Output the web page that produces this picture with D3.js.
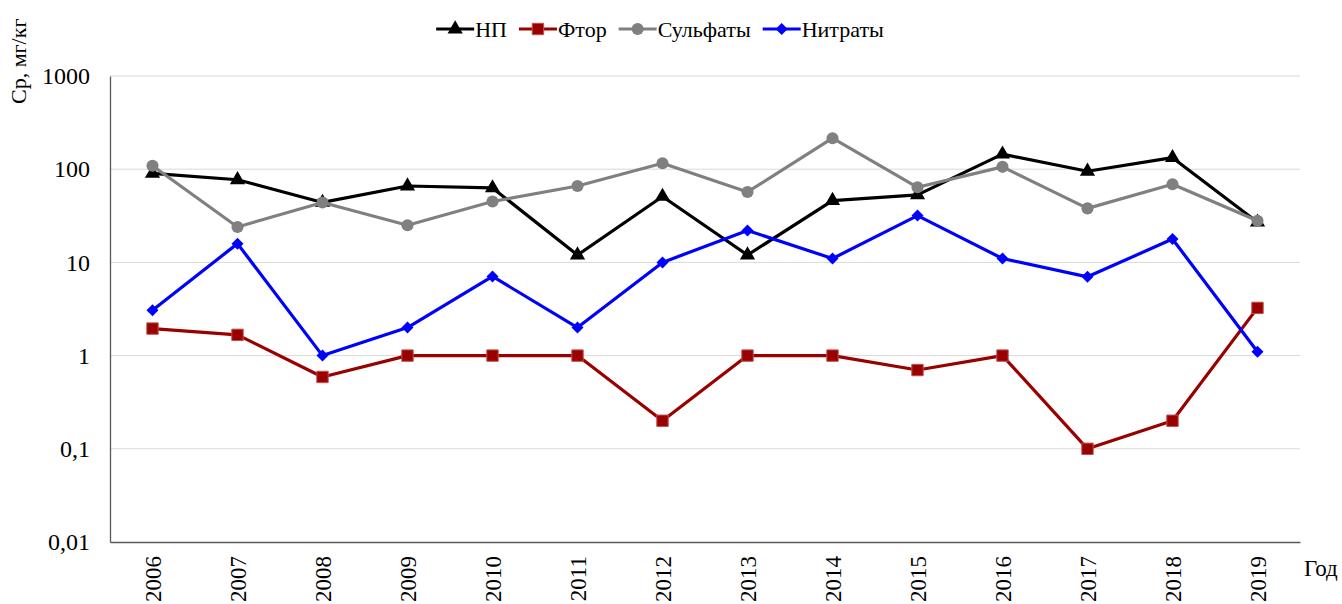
<!DOCTYPE html>
<html>
<head>
<meta charset="utf-8">
<script src="https://cdn.jsdelivr.net/npm/d3@7"></script>
<style>
  body { margin: 0; background: #fff; }
  svg text { font-family: "Liberation Serif", "Times New Roman", serif; fill: #000; }
</style>
</head>
<body>
<script>
const years = ['2006','2007','2008','2009','2010','2011','2012','2013','2014','2015','2016','2017','2018','2019'];
const np = [90, 77, 44, 66, 63, 12, 51, 12, 46, 53, 145, 95, 133, 27];
const ftor = [1.95, 1.67, 0.59, 1, 1, 1, 0.2, 1, 1, 0.7, 1, 0.1, 0.2, 3.25];
const sulfaty = [109, 24, 44, 25, 45, 66, 116, 57, 215, 64, 106, 38, 69, 28];
const nitraty = [3.07, 15.9, 1, 2, 7.07, 2, 10, 22, 11, 31.8, 11, 7, 17.8, 1.1];
const yTicks = [0.01, 0.1, 1, 10, 100, 1000];
const yTickLabels = ['0,01', '0,1', '1', '10', '100', '1000'];

window.addEventListener('load', function(){
    const svg = d3.select('body').append('svg')
    .attr('width', 1342)
    .attr('height', 604)
    .attr('font-family', '"Liberation Serif", "Times New Roman", serif');

    const left = 110, right = 1300, top = 76, bottom = 542;

    const xScale = d3.scaleBand().domain(years).range([left, right]);
    const yScale = d3.scaleLog().domain([0.01, 1000]).range([bottom, top]);
    const xc = (d) => xScale(d) + xScale.bandwidth() / 2;

    // gridlines
    svg.append('g').selectAll('line')
    .data(yTicks.slice(1))
    .enter()
    .append('line')
    .attr('x1', left).attr('x2', right)
    .attr('y1', (d) => yScale(d)).attr('y2', (d) => yScale(d))
    .attr('stroke', '#d9d9d9')
    .attr('stroke-width', 1);

    // axes
    const yAxis = d3.axisLeft(yScale).tickValues(yTicks)
        .tickFormat((d, i) => yTickLabels[i]).tickSize(0).tickPadding(20);
    const gy = svg.append('g').attr('transform', `translate(${left},0)`).call(yAxis)
        .attr('font-family', null).attr('font-size', 24);
    gy.select('.domain').attr('stroke', '#595959').attr('stroke-width', 1.3);

    const xAxis = d3.axisBottom(xScale).tickSize(0);
    const gx = svg.append('g').attr('transform', `translate(0,${bottom})`).call(xAxis)
        .attr('font-family', null).attr('font-size', 23);
    gx.select('.domain').attr('stroke', '#595959').attr('stroke-width', 1.3);
    gx.selectAll('text')
    .attr('text-anchor', 'end')
    .attr('transform', 'rotate(-90)')
    .attr('x', -14)
    .attr('y', 0)
    .attr('dy', '0.35em');

    // axis titles
    svg.append('text')
    .attr('transform', 'translate(26,104) rotate(-90)')
    .attr('font-size', 22)
    .text('Ср, мг/кг');

    svg.append('text')
    .attr('x', 1304).attr('y', 576)
    .attr('font-size', 23)
    .text('Год');

    const diamond = {draw: (ctx, size) => {
        const r = Math.sqrt(size) / 2;
        ctx.moveTo(0, -r); ctx.lineTo(r, 0); ctx.lineTo(0, r); ctx.lineTo(-r, 0); ctx.closePath();
    }};

    const series = [
        {name: 'НП', values: np, color: '#000000', marker: d3.symbolTriangle, size: 100, stroke: 'none'},
        {name: 'Фтор', values: ftor, color: '#990000', marker: d3.symbolSquare, size: 130, stroke: '#c0504d'},
        {name: 'Сульфаты', values: sulfaty, color: '#808080', marker: d3.symbolCircle, size: 115, stroke: 'none'},
        {name: 'Нитраты', values: nitraty, color: '#0000ff', marker: diamond, size: 144, stroke: 'none'}
    ];

    const line = d3.line()
        .x((d, i) => xc(years[i]))
        .y((d) => yScale(d));

    series.forEach(function(s){
        svg.append('path')
        .datum(s.values)
        .attr('d', line)
        .attr('fill', 'none')
        .attr('stroke', s.color)
        .attr('stroke-width', 3.2)
        .attr('stroke-linejoin', 'round');

        svg.append('g').selectAll('path')
        .data(s.values)
        .enter()
        .append('path')
        .attr('d', d3.symbol().type(s.marker).size(s.size))
        .attr('transform', (d, i) => `translate(${xc(years[i])},${yScale(d)})`)
        .attr('fill', s.color)
        .attr('stroke', s.stroke)
        .attr('stroke-width', 1);
    });

    // legend
    const legend = svg.append('g');
    let lx = 0;
    series.forEach(function(s){
        const item = legend.append('g').attr('transform', `translate(${lx},0)`);
        item.append('line')
        .attr('x1', 0).attr('x2', 38)
        .attr('y1', 0).attr('y2', 0)
        .attr('stroke', s.color)
        .attr('stroke-width', 3.2);
        item.append('path')
        .attr('d', d3.symbol().type(s.marker).size(s.size))
        .attr('transform', 'translate(19,0)')
        .attr('fill', s.color)
        .attr('stroke', s.stroke);
        const t = item.append('text')
        .attr('x', 39).attr('y', 0).attr('dy', '0.35em')
        .attr('font-size', 22)
        .text(s.name);
        lx += 39 + t.node().getComputedTextLength() + 12;
    });
    const legendWidth = lx - 12;
    legend.attr('transform', `translate(${660 - legendWidth / 2},29)`);
});
</script>
</body>
</html>
